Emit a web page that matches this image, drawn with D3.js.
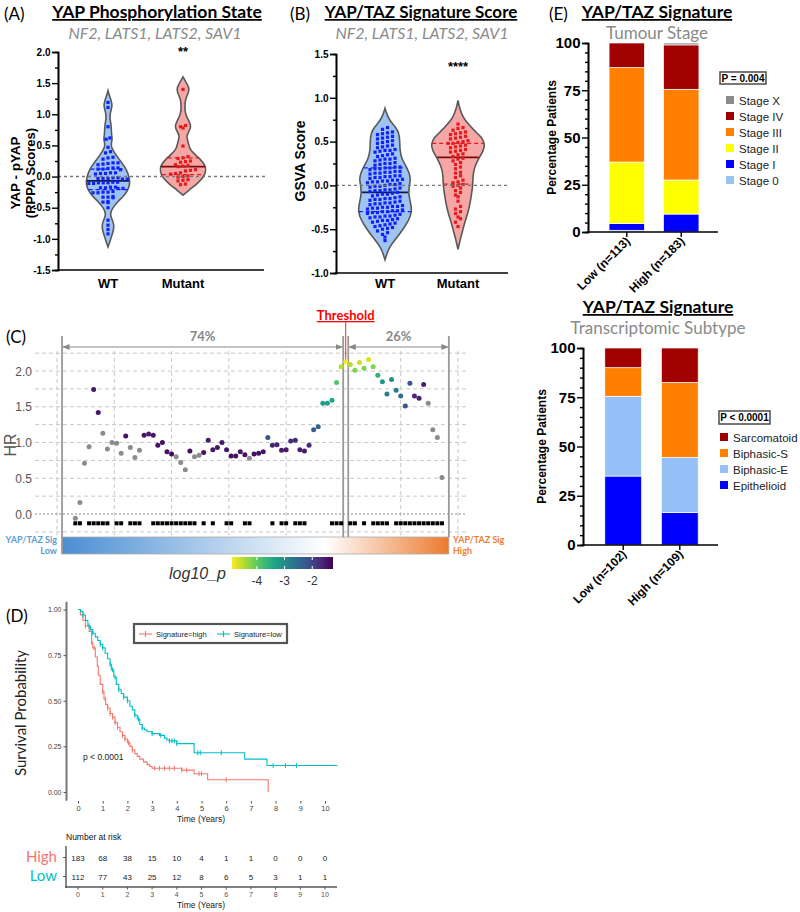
<!DOCTYPE html>
<html><head><meta charset="utf-8">
<script src="https://cdn.jsdelivr.net/npm/d3@7/dist/d3.min.js"></script>
<style>html,body{margin:0;padding:0;background:#fff}svg{display:block}</style>
</head><body>
<svg id="chart" width="800" height="912"></svg>
<script>
// ================= DATA =================
// ---- Panel A: YAP - pYAP (RPPA) ----
const aGroups = ["WT", "Mutant"];
const aTicks = [-1.5, -1, -0.5, 0, 0.5, 1, 1.5, 2];
const aWT = [1.19, 1.11, 0.80, 0.62, 0.60, 0.47, 0.40, 0.38, 0.30, 0.28, 0.31,
  0.22, 0.20, 0.21, 0.19, 0.22, 0.14, 0.12, 0.13, 0.11, 0.14, 0.12,
  0.06, 0.05, 0.04, 0.06, 0.05, -0.02, -0.03, -0.04, -0.02, -0.03, -0.04, -0.03,
  -0.10, -0.11, -0.09, -0.10, -0.11, -0.09, -0.10, -0.18, -0.17, -0.19, -0.18, -0.17, -0.19,
  -0.25, -0.26, -0.24, -0.25, -0.26, -0.33, -0.32, -0.34, -0.33, -0.41, -0.40, -0.42,
  -0.50, -0.70, -0.78, -0.85, -0.92];
const aMut = [1.40, 0.82, 0.80, 0.78, 0.49, 0.32, 0.30, 0.29, 0.24, 0.23, 0.25,
  0.18, 0.17, 0.16, 0.19, 0.10, 0.11, 0.09, 0.05, 0.04, 0.06, 0.00, 0.01, -0.01,
  -0.06, -0.05, -0.07, -0.12, -0.13];
// violin outline: [value, relative half-width]
const aWTProfile = [[-1.13,0],[-1.05,0.08],[-0.95,0.17],[-0.85,0.26],[-0.77,0.27],[-0.7,0.2],[-0.62,0.1],
  [-0.55,0.14],[-0.48,0.26],[-0.4,0.45],[-0.32,0.7],[-0.22,0.9],[-0.12,1.0],[-0.02,0.97],[0.08,0.88],
  [0.18,0.72],[0.28,0.5],[0.38,0.3],[0.46,0.16],[0.53,0.14],[0.6,0.2],[0.68,0.16],[0.76,0.15],[0.84,0.14],
  [0.93,0.08],[1.03,0.1],[1.13,0.2],[1.22,0.15],[1.3,0.06],[1.38,0]];
const aMutProfile = [[-0.3,0],[-0.22,0.25],[-0.12,0.6],[-0.02,0.88],[0.08,1.0],[0.18,0.98],[0.28,0.75],
  [0.36,0.5],[0.44,0.3],[0.5,0.26],[0.58,0.2],[0.65,0.15],[0.72,0.25],[0.8,0.36],[0.88,0.28],[0.98,0.12],
  [1.1,0.07],[1.25,0.1],[1.35,0.25],[1.42,0.27],[1.5,0.15],[1.6,0]];
// [lower quartile, median, upper quartile]
const aWTStats = [-0.21, -0.07, 0.12];
const aMutStats = [0.03, 0.16, 0.30];

// ---- Panel B: GSVA score ----
const bGroups = ["WT", "Mutant"];
const bTicks = [-1, -0.5, 0, 0.5, 1, 1.5];
const bWT = [0.66, 0.64, 0.61, 0.60, 0.59, 0.58, 0.56, 0.55, 0.54, 0.53, 0.51, 0.50, 0.49, 0.48,
  0.46, 0.45, 0.44, 0.43, 0.41, 0.40, 0.40, 0.39, 0.38, 0.36, 0.35, 0.34, 0.33,
  0.31, 0.30, 0.30, 0.29, 0.28, 0.26, 0.25, 0.25, 0.24, 0.23,
  0.21, 0.21, 0.20, 0.20, 0.19, 0.19, 0.18, 0.16, 0.16, 0.15, 0.15, 0.14, 0.14, 0.13,
  0.11, 0.11, 0.10, 0.10, 0.09, 0.09, 0.08, 0.07, 0.06, 0.06, 0.05, 0.05, 0.04, 0.04, 0.03,
  0.02, 0.01, 0.01, 0.00, -0.01, -0.01, -0.02, -0.03, -0.04, -0.05, -0.05, -0.06, -0.06, -0.07,
  -0.08, -0.09, -0.10, -0.10, -0.11, -0.12, -0.13, -0.14, -0.15, -0.15, -0.16, -0.16, -0.17,
  -0.18, -0.19, -0.20, -0.20, -0.21, -0.21, -0.22, -0.23, -0.24, -0.24, -0.25, -0.25, -0.26, -0.26, -0.27,
  -0.28, -0.29, -0.29, -0.30, -0.30, -0.31, -0.31, -0.32, -0.33, -0.34, -0.35, -0.35, -0.36, -0.36, -0.37,
  -0.38, -0.39, -0.40, -0.40, -0.41, -0.42, -0.43, -0.44, -0.45, -0.46, -0.47,
  -0.48, -0.49, -0.50, -0.52, -0.54, -0.56, -0.59, -0.63];
const bMut = [0.70, 0.66, 0.65, 0.63, 0.61, 0.60, 0.59, 0.58, 0.56, 0.55, 0.54, 0.53,
  0.51, 0.50, 0.49, 0.48, 0.48, 0.46, 0.45, 0.44, 0.43, 0.41, 0.40, 0.39, 0.38,
  0.36, 0.35, 0.33, 0.31, 0.30, 0.28, 0.26, 0.24, 0.21, 0.19, 0.15, 0.14, 0.11, 0.09,
  0.06, 0.04, 0.03, 0.01, 0.00, -0.01, -0.03, -0.06, -0.08, -0.11, -0.13, -0.18,
  -0.24, -0.27, -0.30, -0.32, -0.36, -0.38, -0.42, -0.47];
const bWTProfile = [[-0.85,0],[-0.78,0.07],[-0.7,0.17],[-0.6,0.43],[-0.5,0.67],[-0.4,0.88],[-0.3,1.0],
  [-0.2,0.95],[-0.1,0.87],[0.0,0.9],[0.07,0.95],[0.14,0.9],[0.22,0.78],[0.3,0.62],[0.4,0.55],[0.5,0.55],
  [0.6,0.52],[0.67,0.38],[0.73,0.2],[0.8,0.08],[0.88,0]];
const bMutProfile = [[-0.73,0],[-0.62,0.08],[-0.52,0.17],[-0.42,0.25],[-0.3,0.38],[-0.2,0.45],[-0.1,0.5],
  [0.0,0.55],[0.1,0.55],[0.2,0.6],[0.3,0.75],[0.4,0.95],[0.47,1.0],[0.55,0.88],[0.62,0.62],[0.7,0.38],
  [0.78,0.18],[0.88,0.06],[0.97,0]];
const bWTStats = [-0.30, -0.08, 0.20];
const bMutStats = [0.015, 0.32, 0.48];

// ---- Panel C: HR by cut-off ----
const cRank = [8,10,12,14,16,18,20,22,24,26,28,30,32,34,36,38,40,42,44,46,48,50,52,54,56,58,60,62,64,66,
  68,70,72,74,76,78,80,82,84,86,88,90,92,94,96,98,100,102,104,106,108,110,112,114,116,118,120,122,124,126,
  128,130,132,134,136,138,140,142,144,146,148,150,152,154,156,158,160,162,164,166,168];
const cHR = [-0.06,0.16,0.71,0.94,1.74,1.42,1.13,0.91,1.00,0.99,0.85,1.09,0.93,0.79,0.89,1.10,1.12,1.10,0.96,1.00,
  0.87,0.84,0.80,0.72,0.62,0.88,0.80,0.82,0.86,1.03,0.90,0.93,1.00,0.90,0.81,0.81,0.87,0.83,0.78,0.84,
  0.85,0.87,1.07,0.96,0.97,0.89,0.90,1.02,1.03,0.90,0.88,0.96,1.18,1.22,1.55,1.55,1.59,1.84,2.06,2.13,
  2.09,2.01,2.12,2.04,2.16,2.06,1.94,1.85,1.68,1.88,1.73,1.65,1.51,1.83,1.65,1.62,1.81,1.55,1.18,1.07,0.51];
const cLogP = [null,null,null,null,-1.5,-1.45,null,null,null,null,null,-1.4,null,null,null,-1.45,-1.5,-1.45,-1.4,-1.4,
  -1.4,-1.35,null,null,null,-1.4,null,null,-1.4,-1.5,-1.45,-1.45,-1.5,-1.45,-1.4,-1.4,-1.45,-1.4,null,-1.4,
  -1.4,-1.45,-2.2,-1.6,-1.6,-1.5,-1.5,-1.7,-1.7,-1.55,-1.5,-1.65,-2.3,-2.4,-3.3,-3.3,-3.4,-3.9,-4.5,-4.9,
  -4.5,-4.2,-4.6,-4.2,-4.7,-4.2,-3.6,-3.2,-2.8,-3.1,-2.75,-2.55,-2.2,-2.2,-1.65,-1.6,-1.6,null,null,null,null];
const cMark = [1,1,0,1,1,1,1,1,0,1,1,0,1,1,1,0,0,1,1,1,1,1,1,1,1,1,1,0,1,0,1,0,0,1,1,0,0,1,1,0,
  0,0,0,1,0,1,1,0,1,1,1,0,0,0,0,0,1,1,1,0,1,1,0,1,0,1,1,1,1,0,1,1,1,1,1,1,1,1,1,1,1];
const cYTicks = [0, 0.5, 1, 1.5, 2];
const cThreshold = 126;
const cShares = ["74%", "26%"];
const cLegendTicks = [-4, -3, -2];

// ---- Panel D: Kaplan-Meier ----
const kmHigh = [[0,1.0],[0.1,0.97],[0.2,0.94],[0.3,0.91],[0.45,0.88],[0.55,0.82],[0.6,0.79],[0.7,0.74],
  [0.78,0.69],[0.82,0.64],[0.9,0.59],[1.0,0.55],[1.05,0.51],[1.12,0.48],[1.2,0.46],[1.3,0.43],[1.4,0.41],
  [1.5,0.38],[1.6,0.355],[1.7,0.33],[1.8,0.31],[1.9,0.29],[2.0,0.27],[2.1,0.25],[2.2,0.23],[2.3,0.21],
  [2.4,0.195],[2.5,0.18],[2.65,0.165],[2.8,0.15],[2.9,0.14],[3.0,0.13],[4.2,0.12],[4.7,0.10],[5.25,0.067],[7.7,0.0]];
const kmLow = [[0,1.0],[0.1,0.99],[0.2,0.97],[0.3,0.94],[0.4,0.91],[0.5,0.89],[0.6,0.87],[0.7,0.85],
  [0.8,0.83],[0.9,0.81],[1.0,0.79],[1.1,0.76],[1.2,0.73],[1.3,0.70],[1.35,0.67],[1.45,0.63],[1.55,0.59],
  [1.65,0.56],[1.75,0.54],[1.85,0.52],[2.0,0.50],[2.1,0.47],[2.2,0.45],[2.3,0.42],[2.4,0.40],[2.5,0.37],
  [2.6,0.35],[2.7,0.34],[2.8,0.33],[3.0,0.32],[3.3,0.31],[3.5,0.295],[3.6,0.285],[3.7,0.28],[4.0,0.265],
  [4.7,0.215],[6.75,0.18],[7.65,0.145],[10.5,0.145]];
const censorHigh = [0.3,0.55,0.65,1.0,1.1,1.2,1.3,1.4,1.5,1.6,1.8,1.9,2.05,2.2,3.1,3.3,3.5,3.7,3.9,4.2,4.4,4.9,5.0,6.0];
const censorLow = [0.2,0.45,0.6,0.9,1.0,1.3,1.4,1.5,1.65,1.85,2.0,2.3,2.45,2.6,3.0,3.35,3.7,3.8,3.9,4.0,4.85,4.95,5.8,7.9,8.4,8.85];
const kmYTicks = [0, 0.25, 0.5, 0.75, 1];
const kmTimes = [0,1,2,3,4,5,6,7,8,9,10];
const riskHigh = [183,68,38,15,10,4,1,1,0,0,0];
const riskLow = [112,77,43,25,12,8,6,5,3,1,1];

// ---- Panel E: stacked bars ----
const stageKeys = ["Stage 0","Stage I","Stage II","Stage III","Stage IV","Stage X"];
const stageGroups = ["Low (n=113)","High (n=183)"];
const stageLow = [0.9, 3.6, 32.5, 50, 13, 0];
const stageHigh = [0, 9.5, 18, 48, 23.5, 1];
const stageColors = ["#99c2f5","#0000ff","#ffff00","#ff8000","#a00000","#8c8c8c"];
const subKeys = ["Epithelioid","Biphasic-E","Biphasic-S","Sarcomatoid"];
const subGroups = ["Low (n=102)","High (n=109)"];
const subLow = [35, 40.5, 14.5, 10];
const subHigh = [16.5, 28, 38, 17.5];
const subColors = ["#0000ff","#94c0f7","#ff8000","#a00000"];
const pctTicks = [0, 25, 50, 75, 100];

// ================= DRAW =================
const svg = d3.select("#chart");
const ARIAL = "'Liberation Sans', Arial, sans-serif";
const CAL = "Lato, 'Open Sans', sans-serif";
function txt(x, y, s, o = {}) {
  const t = svg.append("text").attr("x", x).attr("y", y).text(s)
    .attr("font-family", o.ff || ARIAL).attr("font-size", o.fs || 12)
    .attr("fill", o.fill || "#000").attr("text-anchor", o.anchor || "start");
  if (o.fw) t.attr("font-weight", o.fw);
  if (o.fst) t.attr("font-style", o.fst);
  if (o.deco) t.attr("text-decoration", o.deco);
  if (o.rot != null) t.attr("transform", `rotate(${o.rot},${x},${y})`);
  return t;
}
function line(x1, y1, x2, y2, st, sw, dash) {
  const l = svg.append("line").attr("x1", x1).attr("y1", y1).attr("x2", x2).attr("y2", y2)
    .attr("stroke", st).attr("stroke-width", sw);
  if (dash) l.attr("stroke-dasharray", dash);
  return l;
}
function layout(vals, step, sp, hw) {
  const bins = d3.group(vals, v => Math.round(v / step));
  const out = [];
  for (const [k, arr] of bins) {
    const n = arr.length, lim = Math.max(hw(k * step) - 2.5, 0);
    const s = n > 1 ? Math.min(sp, 2 * lim / (n - 1)) : 0;
    arr.slice().sort((a, b) => a - b).forEach((v, j) => out.push({ v, dx: (j - (n - 1) / 2) * s }));
  }
  return out;
}
function violins(groups, y, step) {
  groups.forEach(gr => {
    const w = d3.scaleLinear().domain([0, 1]).range([0, gr.maxW]);
    const hwAt = d3.scaleLinear().domain(gr.profile.map(d => d[0])).range(gr.profile.map(d => w(d[1]))).clamp(true);
    const area = d3.area().curve(d3.curveBasis).y(d => y(d[0])).x0(d => gr.cx - w(d[1])).x1(d => gr.cx + w(d[1]));
    svg.append("path").attr("d", area(gr.profile)).attr("fill", gr.fill).attr("stroke", "#595959").attr("stroke-width", 1.6);
    gr.stats.forEach((s, i) => {
      const hw = hwAt(s) * 0.97;
      line(gr.cx - hw, y(s), gr.cx + hw, y(s), i === 1 ? gr.med : gr.dot, i === 1 ? 1.8 : 1.3, i === 1 ? null : "4,3");
    });
    const pts = layout(gr.values, step, 5, hwAt);
    svg.append("g").selectAll("rect").data(pts).join("rect")
      .attr("x", d => gr.cx + d.dx - 1.6).attr("y", d => y(d.v) - 1.6)
      .attr("width", 3.2).attr("height", 3.2).attr("fill", gr.dot);
  });
}
function yAxisGP(x, y, major, minor, fmt, fs) {
  const g = svg.append("g").attr("transform", `translate(${x},0)`);
  g.call(d3.axisLeft(y).tickValues(minor).tickSize(3).tickFormat(""));
  const g2 = svg.append("g").attr("transform", `translate(${x},0)`);
  g2.call(d3.axisLeft(y).tickValues(major).tickSize(6).tickPadding(1.5).tickFormat(fmt));
  [g, g2].forEach(gg => {
    gg.selectAll("path").attr("stroke", "#000").attr("stroke-width", 1.6);
    gg.selectAll("line").attr("stroke", "#000").attr("stroke-width", 1.4);
  });
  g2.selectAll("text").attr("font-family", ARIAL).attr("font-weight", "bold").attr("font-size", fs).attr("fill", "#000");
}

// ---------- Panel A ----------
txt(4, 20, "(A)", { ff: CAL, fs: 17 });
txt(157, 18, "YAP Phosphorylation State", { ff: CAL, fs: 17.5, fw: "bold", anchor: "middle", deco: "underline" });
txt(155, 39, "NF2, LATS1, LATS2, SAV1", { ff: CAL, fs: 16, fst: "italic", fill: "#8a8a8a", anchor: "middle" });
const yA = d3.scaleLinear().domain([-1.5, 2]).range([270, 52]);
const xA = d3.scalePoint().domain(aGroups).range([108, 183]);
violins([
  { cx: xA("WT"), maxW: 22, profile: aWTProfile, values: aWT, stats: aWTStats, fill: "#9fc4f3", dot: "#1020ff", med: "#101840" },
  { cx: xA("Mutant"), maxW: 23, profile: aMutProfile, values: aMut, stats: aMutStats, fill: "#f7a6a6", dot: "#e41a1c", med: "#7a0a0a" }
], yA, 0.075);
line(58, yA(0), 265, yA(0), "#777", 1.4, "3,3");
yAxisGP(58, yA, aTicks, aTicks.slice(0, -1).map(d => d + 0.25), d => d.toFixed(1), 10);
line(57.2, 270, 264, 270, "#000", 1.6);
aGroups.forEach(g => txt(xA(g), 288, g, { fs: 13, fw: "bold", anchor: "middle" }));
txt(20, 173, "YAP - pYAP", { fs: 13.5, fw: "bold", anchor: "middle", rot: -90 });
txt(35, 173, "(RPPA Scores)", { fs: 13, fw: "bold", anchor: "middle", rot: -90 });
txt(183, 56, "**", { fs: 13, fw: "bold", anchor: "middle" });

// ---------- Panel B ----------
txt(290, 20, "(B)", { ff: CAL, fs: 17 });
txt(421, 18, "YAP/TAZ Signature Score", { ff: CAL, fs: 17, fw: "bold", anchor: "middle", deco: "underline" });
txt(422, 39, "NF2, LATS1, LATS2, SAV1", { ff: CAL, fs: 16, fst: "italic", fill: "#8a8a8a", anchor: "middle" });
const yB = d3.scaleLinear().domain([-1, 1.5]).range([273, 54]);
const xB = d3.scalePoint().domain(bGroups).range([385, 458]);
violins([
  { cx: xB("WT"), maxW: 27, profile: bWTProfile, values: bWT, stats: bWTStats, fill: "#9fc4f3", dot: "#1020ff", med: "#101840" },
  { cx: xB("Mutant"), maxW: 27, profile: bMutProfile, values: bMut, stats: bMutStats, fill: "#f7a6a6", dot: "#e41a1c", med: "#7a0a0a" }
], yB, 0.05);
line(336, yB(0), 510, yB(0), "#777", 1.4, "3,3");
yAxisGP(336, yB, bTicks, bTicks.slice(0, -1).map(d => d + 0.25), d => d.toFixed(1), 10);
line(335.2, 273, 508, 273, "#000", 1.6);
bGroups.forEach(g => txt(xB(g), 288, g, { fs: 13, fw: "bold", anchor: "middle" }));
txt(305, 161, "GSVA Score", { fs: 14, fw: "bold", anchor: "middle", rot: -90 });
txt(458, 71, "****", { fs: 13, fw: "bold", anchor: "middle" });

// ---------- Panel C ----------
txt(6, 343, "(C)", { ff: CAL, fs: 17 });
const xC = d3.scaleLinear().domain([0, 175]).range([57, 458]);
const yC = d3.scaleLinear().domain([0, 2]).range([514, 371]);
const hGrid = d3.range(-0.25, 2.26, 0.25);
hGrid.forEach(v => { if (Math.abs(v) > 1e-9) line(35, yC(v), 467, yC(v), "#c8c8c8", 1, "4,3"); });
[0, 25, 50, 75, 100, 125, 150, 175].forEach(v => line(xC(v), yC(2.28), xC(v), yC(-0.3), "#c8c8c8", 1, "4,3"));
line(35, yC(0), 467, yC(0), "#888", 1.2, "2,2");
cYTicks.forEach(v => txt(32, yC(v) + 4.5, v.toFixed(1), { fs: 12, fill: "#555", anchor: "end" }));
txt(16, 445, "HR", { fs: 16, fill: "#555", anchor: "middle", rot: -90 });
// gradient bar
const defs = svg.append("defs");
const lg = defs.append("linearGradient").attr("id", "sigGrad");
[["0%", "#4a8ed3"], ["68%", "#ffffff"], ["100%", "#ec7a2e"]].forEach(s => lg.append("stop").attr("offset", s[0]).attr("stop-color", s[1]));
const vg = defs.append("linearGradient").attr("id", "virGrad");
d3.range(0, 1.001, 0.1).forEach(t => vg.append("stop").attr("offset", (t * 100) + "%").attr("stop-color", d3.interpolateViridis(1 - t)));
svg.append("rect").attr("x", xC(2.2)).attr("y", 537).attr("width", xC(171) - xC(2.2)).attr("height", 17)
  .attr("fill", "url(#sigGrad)").attr("stroke", "#aaa").attr("stroke-width", 0.8);
txt(57, 543, "YAP/TAZ Sig", { ff: CAL, fs: 9, fw: "bold", fill: "#5b9bd5", anchor: "end" });
txt(57, 554, "Low", { ff: CAL, fs: 9, fw: "bold", fill: "#5b9bd5", anchor: "end" });
txt(453, 543, "YAP/TAZ Sig", { ff: CAL, fs: 9, fw: "bold", fill: "#ed7d31" });
txt(453, 554, "High", { ff: CAL, fs: 9, fw: "bold", fill: "#ed7d31" });
// structure lines
line(xC(2.2), 336, xC(2.2), 554, "#999", 1.8);
line(xC(cThreshold - 1.1), 336, xC(cThreshold - 1.1), 537, "#999", 1.8);
line(xC(cThreshold + 1.1), 336, xC(cThreshold + 1.1), 537, "#999", 1.8);
line(xC(171), 336, xC(171), 537, "#999", 1.8);
// arrows
defs.append("marker").attr("id", "arr").attr("viewBox", "0 0 10 10").attr("refX", 9).attr("refY", 5)
  .attr("markerWidth", 6).attr("markerHeight", 6).attr("orient", "auto-start-reverse")
  .append("path").attr("d", "M0,1L10,5L0,9z").attr("fill", "#888");
line(xC(2.2) + 1, 347, xC(cThreshold - 1.1) - 1, 347, "#888", 1.2).attr("marker-start", "url(#arr)").attr("marker-end", "url(#arr)");
line(xC(cThreshold + 1.1) + 1, 347, xC(171) - 1, 347, "#888", 1.2).attr("marker-start", "url(#arr)").attr("marker-end", "url(#arr)");
txt((xC(2.2) + xC(cThreshold - 1.1)) / 2, 341, cShares[0], { ff: CAL, fs: 13, fw: "bold", fill: "#888", anchor: "middle" });
txt((xC(cThreshold + 1.1) + xC(171)) / 2, 341, cShares[1], { ff: CAL, fs: 13, fw: "bold", fill: "#888", anchor: "middle" });
txt(xC(cThreshold), 320, "Threshold", { ff: CAL, fs: 13, fw: "bold", fill: "#ff0000", anchor: "middle", deco: "underline" });
line(xC(cThreshold), 322, xC(cThreshold), 360, "#e03030", 1);
// points
const colC = d3.scaleSequential(d3.interpolateViridis).domain([-1.25, -4.9]);
const cData = cRank.map((r, i) => ({ r, hr: cHR[i], p: cLogP[i], m: cMark[i] }));
svg.append("g").selectAll("rect").data(cData.filter(d => d.m)).join("rect")
  .attr("x", d => xC(d.r) - 2).attr("y", yC(-0.13) - 2).attr("width", 4).attr("height", 4).attr("fill", "#000");
svg.append("g").selectAll("circle").data(cData).join("circle")
  .attr("cx", d => xC(d.r)).attr("cy", d => yC(d.hr)).attr("r", 2.5)
  .attr("fill", d => d.p == null ? "#8c8c8c" : colC(d.p));
// colour legend
const xLeg = d3.scaleLinear().domain([-4.9, -1.25]).range([232, 333]);
svg.append("rect").attr("x", 232).attr("y", 557).attr("width", 101).attr("height", 12).attr("fill", "url(#virGrad)");
cLegendTicks.forEach(v => {
  line(xLeg(v), 557, xLeg(v), 560, "#fff", 1); line(xLeg(v), 566, xLeg(v), 569, "#fff", 1);
  txt(xLeg(v), 585, v, { fs: 12, fill: "#333", anchor: "middle" });
});
txt(226, 579, "log10_p", { fs: 16, fst: "italic", fill: "#333", anchor: "end" });

// ---------- Panel D ----------
txt(6, 622, "(D)", { ff: CAL, fs: 17 });
const xD = d3.scaleLinear().domain([0, 10]).range([78, 325]);
const yD = d3.scaleLinear().domain([-0.045, 1.045]).range([800.2, 601.3]);
const gyD = svg.append("g").attr("transform", "translate(66,0)")
  .call(d3.axisLeft(yD).tickValues(kmYTicks).tickSize(2.5).tickSizeOuter(0).tickPadding(2).tickFormat(d3.format(".2f")));
gyD.select("path").attr("stroke", "#777").attr("stroke-width", 2);
gyD.selectAll("line").attr("stroke", "#555");
gyD.selectAll("text").attr("font-family", ARIAL).attr("font-size", 7).attr("fill", "#444");
const gxD = svg.append("g").attr("transform", "translate(0,801)")
  .call(d3.axisBottom(xD).tickValues(kmTimes).tickSize(2.5).tickPadding(2));
gxD.select("path").remove();
gxD.selectAll("line").attr("stroke", "#555");
gxD.selectAll("text").attr("font-family", ARIAL).attr("font-size", 7.5).attr("fill", "#444");
txt(201, 822, "Time (Years)", { fs: 8.5, fill: "#222", anchor: "middle" });
txt(26, 713, "Survival Probability", { ff: CAL, fs: 15, fill: "#222", anchor: "middle", rot: -90 });
const kmLine = d3.line().curve(d3.curveStepAfter).x(d => xD(d[0])).y(d => yD(d[1]));
function survAt(curve, t) { let s = 1; curve.forEach(d => { if (d[0] <= t) s = d[1]; }); return s; }
[[kmHigh, censorHigh, "#f8766d"], [kmLow, censorLow, "#00bfc4"]].forEach(([cv, cen, col]) => {
  svg.append("path").attr("d", kmLine(cv)).attr("fill", "none").attr("stroke", col).attr("stroke-width", 1.1);
  svg.append("g").selectAll("line").data(cen).join("line")
    .attr("x1", t => xD(t)).attr("x2", t => xD(t))
    .attr("y1", t => yD(survAt(cv, t)) - 2.5).attr("y2", t => yD(survAt(cv, t)) + 2.5)
    .attr("stroke", col).attr("stroke-width", 1);
});
txt(83, 760, "p < 0.0001", { fs: 8.5, fill: "#222" });
svg.append("rect").attr("x", 134).attr("y", 624).attr("width", 153).attr("height", 19)
  .attr("fill", "#fff").attr("stroke", "#555").attr("stroke-width", 2.2);
[["Signature=high", "#f8766d", 139], ["Signature=low", "#00bfc4", 217]].forEach(([lab, col, x0]) => {
  line(x0, 634, x0 + 13, 634, col, 1.1);
  line(x0 + 6.5, 631, x0 + 6.5, 637, col, 1.1);
  txt(x0 + 17, 637, lab, { fs: 7.5, fill: "#222" });
});
// risk table
txt(66, 840, "Number at risk", { fs: 8.5, fill: "#111" });
line(66, 846, 66, 888, "#555", 1.4);
line(65, 887, 337, 887, "#555", 1.4);
line(63, 857.5, 66, 857.5, "#555", 1); line(63, 876.5, 66, 876.5, "#555", 1);
kmTimes.forEach((t, i) => {
  txt(xD(t), 861, riskHigh[i], { fs: 8, fill: "#222", anchor: "middle" });
  txt(xD(t), 880, riskLow[i], { fs: 8, fill: "#222", anchor: "middle" });
  line(xD(t), 887, xD(t), 889.5, "#555", 1);
  txt(xD(t), 897, t, { fs: 7, fill: "#555", anchor: "middle" });
});
txt(201, 908, "Time (Years)", { fs: 8.5, fill: "#222", anchor: "middle" });
txt(57, 862, "High", { ff: CAL, fs: 15, fill: "#f8766d", anchor: "end" });
txt(57, 881, "Low", { ff: CAL, fs: 15, fill: "#00bfc4", anchor: "end" });

// ---------- Panel E ----------
function stackPanel(o) {
  const rows = o.groups.map((g, gi) => { const r = { group: g }; o.keys.forEach((k, ki) => r[k] = o.vals[gi][ki]); return r; });
  const series = d3.stack().keys(o.keys)(rows);
  const x = d3.scaleBand().domain(o.groups).range(o.xr).padding(0.35);
  const y = d3.scaleLinear().domain([0, 100]).range(o.yr);
  series.forEach((s, si) => {
    svg.append("g").selectAll("rect").data(s).join("rect")
      .attr("x", d => x(d.data.group)).attr("width", x.bandwidth())
      .attr("y", d => y(d[1])).attr("height", d => Math.max(0, y(d[0]) - y(d[1])))
      .attr("fill", o.colors[si]).attr("stroke", "#fff").attr("stroke-width", 0.7);
  });
  const minor = d3.range(5, 100, 5).filter(v => v % 25 !== 0);
  yAxisGP(o.xr[0] - 2, y, pctTicks, minor, d => d, 15);
  line(o.xr[0] - 2.8, o.yr[0], o.xr[1], o.yr[0], "#000", 1.6);
  o.groups.forEach(g => {
    const cx = x(g) + x.bandwidth() / 2;
    line(cx, o.yr[0], cx, o.yr[0] + 5, "#000", 1.4);
    txt(cx + 4, o.yr[0] + 10, g, { fs: 12, fw: "bold", anchor: "end", rot: -45 });
  });
  txt(o.lx, (o.yr[0] + o.yr[1]) / 2, "Percentage Patients", { fs: 12, fw: "bold", anchor: "middle", rot: -90 });
  txt(o.tc, o.ty, "YAP/TAZ Signature", { ff: CAL, fs: 17.5, fw: "bold", anchor: "middle", deco: "underline" });
  txt(o.tc, o.ty + 21, o.sub, { ff: CAL, fs: 17, fill: "#8a8a8a", anchor: "middle" });
  svg.append("rect").attr("x", o.pBox[0]).attr("y", o.pBox[1]).attr("width", o.pBox[2]).attr("height", o.pBox[3])
    .attr("fill", "#fff").attr("stroke", "#555").attr("stroke-width", 1.6);
  txt(o.pBox[0] + o.pBox[2] / 2, o.pBox[1] + 9.5, o.pText, { fs: 10, fw: "bold", anchor: "middle" });
  o.keys.slice().reverse().forEach((k, i) => {
    const ci = o.keys.length - 1 - i;
    const yy = o.legY + i * o.legDy;
    svg.append("rect").attr("x", o.legX).attr("y", yy - 4).attr("width", 8).attr("height", 8).attr("fill", o.colors[ci]);
    txt(o.legX + 13, yy + 4.5, k, { fs: 11.5, fill: "#222" });
  });
}
txt(549, 20, "(E)", { ff: CAL, fs: 17 });
stackPanel({ groups: stageGroups, keys: stageKeys, vals: [stageLow, stageHigh], colors: stageColors,
  xr: [590, 718], yr: [232, 43], lx: 556, tc: 657, ty: 18, sub: "Tumour Stage",
  pBox: [720, 72, 46, 12], pText: "P = 0.004", legX: 726, legY: 100, legDy: 16 });
stackPanel({ groups: subGroups, keys: subKeys, vals: [subLow, subHigh], colors: subColors,
  xr: [585, 718], yr: [545, 348], lx: 546, tc: 658, ty: 313, sub: "Transcriptomic Subtype",
  pBox: [719, 411, 51, 13], pText: "P < 0.0001", legX: 720, legY: 437, legDy: 16 });
</script>
</body></html>
